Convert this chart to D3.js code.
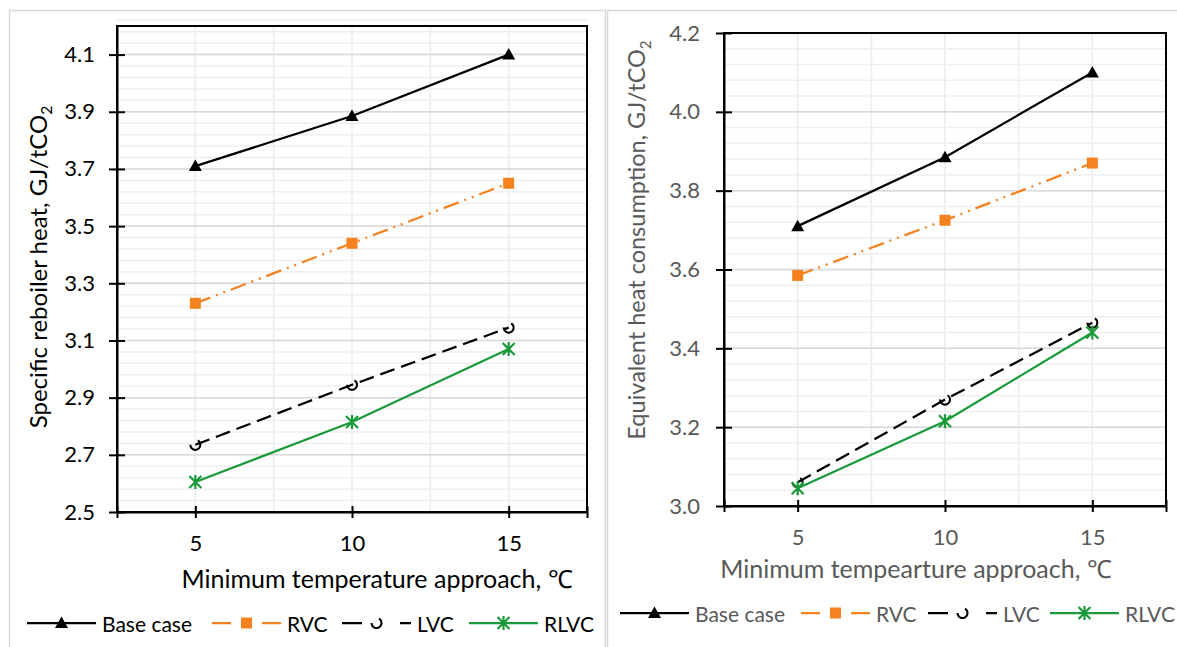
<!DOCTYPE html>
<html>
<head>
<meta charset="utf-8">
<script src="https://cdn.jsdelivr.net/npm/d3@7"></script>
<style>
  body { margin: 0; background: #fff; }
  svg { display: block; font-family: Lato, "Open Sans", sans-serif; }
</style>
</head>
<body>
<svg id="chart" width="1177" height="647"></svg>
<script>
// Minimum temperature approach (x) shared by both panels
const tempApproach = [5, 10, 15];
const xTickLabels = [5, 10, 15];

// left panel - specific reboiler heat, GJ/tCO2
const reboilerBase = [3.71, 3.885, 4.10];
const reboilerRVC = [3.23, 3.44, 3.65];
const reboilerLVC = [2.735, 2.945, 3.145];
const reboilerRLVC = [2.605, 2.815, 3.07];
const reboilerTicks = [2.5, 2.7, 2.9, 3.1, 3.3, 3.5, 3.7, 3.9, 4.1];

// right panel - equivalent heat consumption, GJ/tCO2
const equivBase = [3.71, 3.885, 4.10];
const equivRVC = [3.585, 3.725, 3.87];
const equivLVC = [3.06, 3.27, 3.465];
const equivRLVC = [3.045, 3.215, 3.44];
const equivTicks = [3.0, 3.2, 3.4, 3.6, 3.8, 4.0, 4.2];

const seriesNames = ["Base case", "RVC", "LVC", "RLVC"];

const orange = "#f5821f";
const green = "#1a9a3a";

// line + marker style for each series
const styles = {
  "Base case": {color: "#000", dash: null, legendDash: null, marker: "triangle"},
  "RVC": {color: orange, dash: "16,6,2,6,2,6", legendDash: "19,31", marker: "square"},
  "LVC": {color: "#000", dash: "15,7", legendDash: "20,38,12", marker: "openCircle"},
  "RLVC": {color: green, dash: null, legendDash: null, marker: "star"}
};

const svg = d3.select("#chart");

svg.append("rect").attr("width", 1177).attr("height", 647).attr("fill", "#fff");

// panel frames
svg.append("rect").attr("x", 9.5).attr("y", 10.5).attr("width", 596).attr("height", 700)
   .attr("fill", "none").attr("stroke", "#d9d9d9").attr("stroke-width", 1.5);
svg.append("rect").attr("x", 607.5).attr("y", 10.5).attr("width", 620).attr("height", 700)
   .attr("fill", "none").attr("stroke", "#d9d9d9").attr("stroke-width", 1.5);

function drawMarker(g, type, color) {
  if (type === "triangle") {
    g.append("path").attr("d", "M0,-6.5L6.5,5L-6.5,5Z").attr("fill", color);
  } else if (type === "square") {
    g.append("rect").attr("x", -5.5).attr("y", -5.5).attr("width", 11).attr("height", 11).attr("fill", color);
  } else if (type === "openCircle") {
    const r = 5;
    const a0 = -60 * Math.PI / 180;
    g.append("path")
     .attr("d", `M${r * Math.cos(a0)},${r * Math.sin(a0)}A${r},${r} 0 1 1 ${-r},0`)
     .attr("fill", "none").attr("stroke", color).attr("stroke-width", 2);
  } else if (type === "star") {
    g.append("path").attr("d", "M-6,-6L6,6M-6,6L6,-6M0,-7L0,7")
     .attr("stroke", color).attr("stroke-width", 2.2).attr("fill", "none");
  }
}

function drawPanel(cfg) {
  const g = svg.append("g");
  const textColor = cfg.textColor;

  const x = d3.scaleLinear().domain([2.5, 17.5]).range([cfg.left, cfg.right]);
  const y = d3.scaleLinear().domain(cfg.yDomain).range([cfg.bottom, cfg.top]);

  // minor horizontal gridlines (every 0.04)
  const nMinor = Math.round((cfg.yDomain[1] - cfg.yDomain[0]) / 0.04);
  const minor = d3.range(0, nMinor + 1).map(i => cfg.yDomain[0] + i * 0.04);
  g.append("g").selectAll("line").data(minor).enter().append("line")
   .attr("x1", cfg.left).attr("x2", cfg.right)
   .attr("y1", d => y(d)).attr("y2", d => y(d))
   .attr("stroke", "#efefef").attr("stroke-width", 1.5);

  // vertical gridlines
  g.append("g").selectAll("line").data([5, 7.5, 10, 12.5, 15]).enter().append("line")
   .attr("x1", d => x(d)).attr("x2", d => x(d))
   .attr("y1", cfg.top).attr("y2", cfg.bottom)
   .attr("stroke", "#f0f0f0").attr("stroke-width", 2);

  // major horizontal gridlines
  g.append("g").selectAll("line").data(cfg.yTicks).enter().append("line")
   .attr("x1", cfg.left).attr("x2", cfg.right)
   .attr("y1", d => y(d)).attr("y2", d => y(d))
   .attr("stroke", "#d9d9d9").attr("stroke-width", 1.5);

  // plot area border
  g.append("rect").attr("x", cfg.left).attr("y", cfg.top)
   .attr("width", cfg.right - cfg.left).attr("height", cfg.bottom - cfg.top)
   .attr("fill", "none").attr("stroke", "#000").attr("stroke-width", 2);

  // y axis
  const yAxis = g.append("g")
    .attr("transform", `translate(${cfg.left},0)`)
    .call(d3.axisLeft(y).tickValues(cfg.yTicks).tickSize(8).tickSizeOuter(0)
          .tickPadding(cfg.yPad).tickFormat(d => d.toFixed(1)));
  yAxis.select(".domain").attr("stroke", "#000").attr("stroke-width", 2);
  yAxis.selectAll(".tick line").attr("x1", 8).attr("stroke", "#000").attr("stroke-width", 2);
  yAxis.selectAll(".tick text").attr("fill", textColor).style("font-size", "22px")
       .style("font-family", "Lato");

  // x axis
  const xAxis = g.append("g")
    .attr("transform", `translate(0,${cfg.bottom})`)
    .call(d3.axisBottom(x).tickValues([2.5, 5, 10, 15, 17.5]).tickSize(6).tickSizeOuter(0)
          .tickPadding(17).tickFormat(d => xTickLabels.includes(d) ? d : ""));
  xAxis.select(".domain").attr("stroke", "#000").attr("stroke-width", 2);
  xAxis.selectAll(".tick line").attr("y1", -6).attr("stroke", "#000").attr("stroke-width", 2);
  xAxis.selectAll(".tick text").attr("fill", textColor).style("font-size", "22px")
       .style("font-family", "Lato");

  // axis titles
  g.append("text")
   .attr("x", cfg.xTitleX).attr("y", cfg.xTitleY)
   .attr("text-anchor", "middle").attr("dominant-baseline", "central")
   .attr("fill", textColor).style("font-size", cfg.xTitleSize + "px")
   .text(cfg.xTitle);

  const yt = g.append("text")
   .attr("transform", `translate(${cfg.yTitleX},${cfg.yTitleY}) rotate(-90)`)
   .attr("text-anchor", "middle").attr("dominant-baseline", "central")
   .attr("fill", textColor).style("font-size", cfg.yTitleSize + "px");
  yt.append("tspan").text(cfg.yTitle);
  yt.append("tspan").attr("baseline-shift", "sub").style("font-size", (cfg.yTitleSize * 0.65) + "px").text("2");

  // series
  const line = d3.line().x(d => x(d.t)).y(d => y(d.v));
  seriesNames.forEach(name => {
    const st = styles[name];
    const pts = tempApproach.map((t, i) => ({t: t, v: cfg.values[name][i]}));
    g.append("path").datum(pts)
     .attr("d", line).attr("fill", "none")
     .attr("stroke", st.color).attr("stroke-width", 2.25)
     .attr("stroke-dasharray", st.dash);
    pts.forEach(p => {
      const m = g.append("g").attr("transform", `translate(${x(p.t)},${y(p.v)})`);
      drawMarker(m, st.marker, st.color);
    });
  });

  // legend - entries start where the reference has them
  const ly = cfg.legendY;
  seriesNames.forEach((name, i) => {
    const st = styles[name];
    const lx = cfg.legendXs[i];
    const lg = g.append("g");
    lg.append("line").attr("x1", lx).attr("x2", lx + 69).attr("y1", ly).attr("y2", ly)
      .attr("stroke", st.color).attr("stroke-width", 2.25).attr("stroke-dasharray", st.legendDash);
    drawMarker(lg.append("g").attr("transform", `translate(${lx + 34.5},${ly})`), st.marker, st.color);
    lg.append("text").attr("x", lx + 75).attr("y", ly)
      .attr("dominant-baseline", "central").attr("fill", textColor)
      .style("font-size", cfg.legendSize + "px").text(name);
  });
}

drawPanel({
  left: 117, right: 587, top: 26, bottom: 512,
  yDomain: [2.5, 4.2], yTicks: reboilerTicks, yPad: 14,
  textColor: "#000",
  xTitle: "Minimum temperature approach, \u2103", xTitleX: 377, xTitleY: 578,
  yTitle: "Specific reboiler heat, GJ/tCO", yTitleX: 37, yTitleY: 267,
  xTitleSize: 25, yTitleSize: 24, legendSize: 21,
  legendXs: [27, 212, 342, 469], legendY: 623,
  values: {"Base case": reboilerBase, "RVC": reboilerRVC, "LVC": reboilerLVC, "RLVC": reboilerRLVC}
});

drawPanel({
  left: 724, right: 1166, top: 33, bottom: 506,
  yDomain: [3.0, 4.2], yTicks: equivTicks, yPad: 16,
  textColor: "#595959",
  xTitle: "Minimum tempearture approach, \u2103", xTitleX: 916, xTitleY: 568,
  yTitle: "Equivalent heat consumption, GJ/tCO", yTitleX: 636, yTitleY: 240,
  xTitleSize: 25, yTitleSize: 23.5, legendSize: 21,
  legendXs: [620, 801, 928, 1050], legendY: 613,
  values: {"Base case": equivBase, "RVC": equivRVC, "LVC": equivLVC, "RLVC": equivRLVC}
});
</script>
</body>
</html>
